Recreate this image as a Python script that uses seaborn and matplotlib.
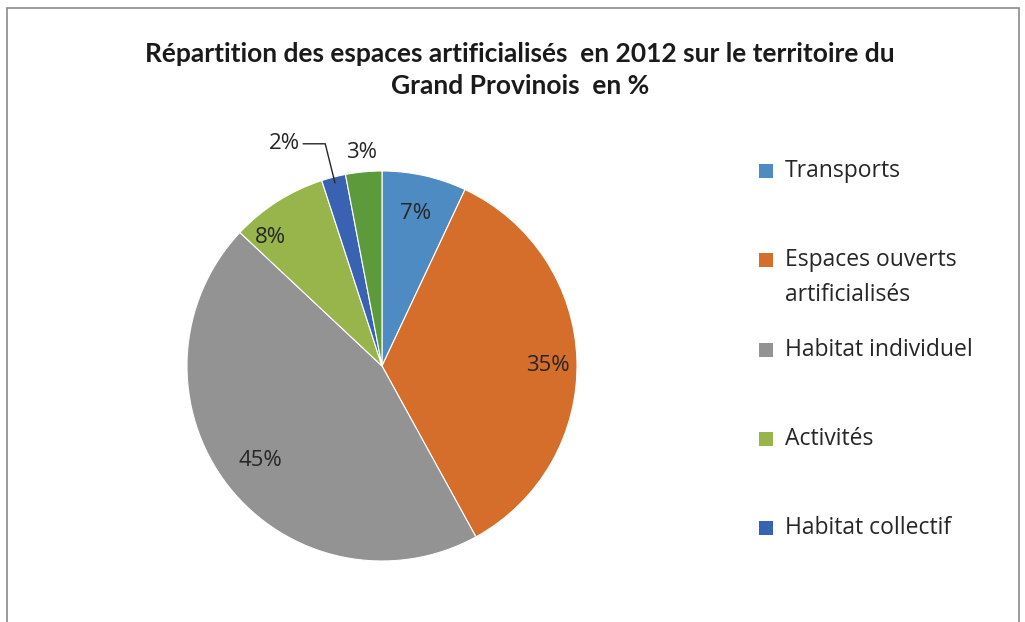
import numpy as np
import matplotlib.pyplot as plt
import seaborn as sns
from matplotlib.patches import Rectangle

# data
categories = ["Transports", "Espaces ouverts\nartificialisés", "Habitat individuel",
              "Activités", "Habitat collectif", "Autres"]
shares = [7, 35, 45, 8, 2, 3]
colors = ["#4F8BC3", "#D46E2A", "#939393", "#98B54C", "#3A62B3", "#5C9A3C"]
n_legend = 5  # the last slice is not listed in the legend
title = "Répartition des espaces artificialisés  en 2012 sur le territoire du\nGrand Provinois  en %"

sns.set_theme(style="white")
plt.rcParams["font.family"] = ["Open Sans", "DejaVu Sans"]

W, H = 1025, 622
fig = plt.figure(figsize=(W / 100, H / 100), dpi=100)
fig.patch.set_facecolor("white")

# chart frame (bottom edge is cut off in the reference)
fig.add_artist(Rectangle((7 / W, -0.02), (1019 - 7) / W, (H - 8) / H + 0.02,
                         fill=False, edgecolor="#8a8a8a", lw=1.2,
                         transform=fig.transFigure))

fig.text(520 / W, 1 - 70 / H, title, ha="center", va="center", fontsize=19,
         fontweight="bold", family=["Lato", "DejaVu Sans"], linespacing=1.45,
         color="#1a1a1a")

cx, cy, r = 382, 366, 195
ax = fig.add_axes([(cx - r) / W, (H - cy - r) / H, 2 * r / W, 2 * r / H])
wedges, texts, autotexts = ax.pie(
    shares, colors=colors, startangle=90, counterclock=False, radius=1,
    autopct="%.0f%%", pctdistance=0.8,
    wedgeprops=dict(edgecolor="white", linewidth=0.8),
    textprops=dict(fontsize=16, color="#262626"))
ax.set_xlim(-1, 1)
ax.set_ylim(-1, 1)
ax.set_aspect("equal")
ax.axis("off")

# label placement ("best fit" style): radius and angular nudge per slice
label_radius = [0.8, 0.85, 0.79, 0.875, None, 1.1]
label_nudge = [0, -1.5, 0, 8.6, 0, 0]
for w, t, d, dn in zip(wedges, autotexts, label_radius, label_nudge):
    ang = np.deg2rad((w.theta1 + w.theta2) / 2 + dn)
    if d is None:
        t.set_visible(False)
        edge = (0.97 * np.cos(ang), 0.97 * np.sin(ang))
        ax.annotate(t.get_text(), xy=edge, xytext=(edge[0] - 0.26, edge[1] + 0.2),
                    ha="center", va="center", fontsize=16, color="#262626",
                    annotation_clip=False,
                    arrowprops=dict(arrowstyle="-", color="#262626", lw=1,
                                    shrinkA=0, shrinkB=0,
                                    connectionstyle="angle,angleA=0,angleB=104,rad=0"))
    else:
        t.set_position((d * np.cos(ang), d * np.sin(ang)))

# legend, one entry per row
for i in range(n_legend):
    y = 171 + i * 89.25
    fig.add_artist(Rectangle((759 / W, 1 - (y + 7) / H), 14 / W, 14 / H,
                             facecolor=colors[i], edgecolor="none",
                             transform=fig.transFigure))
    for j, line in enumerate(categories[i].split("\n")):
        fig.text(785 / W, 1 - (y + j * 35) / H, line, ha="left", va="center",
                 fontsize=16.5, color="#262626")

fig.savefig("out.png", dpi=100)
